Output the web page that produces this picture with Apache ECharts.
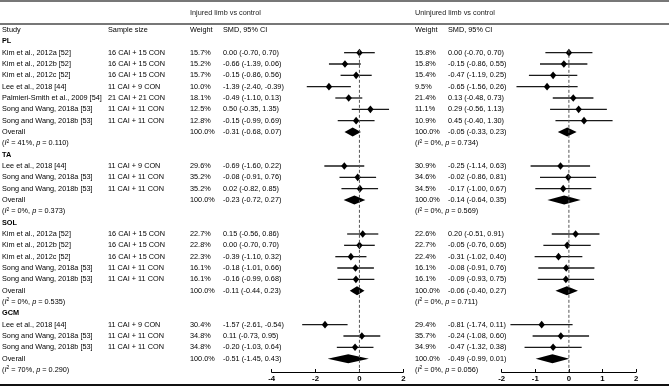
<!DOCTYPE html>
<html>
<head>
<meta charset="utf-8">
<script src="https://cdn.jsdelivr.net/npm/echarts@6/dist/echarts.min.js"></script>
<style>
html, body { margin: 0; padding: 0; background: #fff; }
#chart { width: 669px; height: 390px; }
</style>
</head>
<body>
<div id="chart"></div>
<script>
// subgroup labels
const groups = ['PL', 'TA', 'SOL', 'GCM'];

// PL
const plStudies = ['Kim et al., 2012a [52]', 'Kim et al., 2012b [52]', 'Kim et al., 2012c [52]', 'Lee et al., 2018 [44]',
    'Palmieri-Smith et al., 2009 [54]', 'Song and Wang, 2018a [53]', 'Song and Wang, 2018b [53]'];
const plSizes = ['16 CAI + 15 CON', '16 CAI + 15 CON', '16 CAI + 15 CON', '11 CAI + 9 CON', '21 CAI + 21 CON', '11 CAI + 11 CON', '11 CAI + 11 CON'];
const plInjWeight = [15.7, 15.2, 15.7, 10.0, 18.1, 12.5, 12.8];
const plInjSmd = [[0.00, -0.70, 0.70], [-0.66, -1.39, 0.06], [-0.15, -0.86, 0.56], [-1.39, -2.40, -0.39],
    [-0.49, -1.10, 0.13], [0.50, -0.35, 1.35], [-0.15, -0.99, 0.69]];
const plUniWeight = [15.8, 15.8, 15.4, 9.5, 21.4, 11.1, 10.9];
const plUniSmd = [[0.00, -0.70, 0.70], [-0.15, -0.86, 0.55], [-0.47, -1.19, 0.25], [-0.65, -1.56, 0.26],
    [0.13, -0.48, 0.73], [0.29, -0.56, 1.13], [0.45, -0.40, 1.30]];

// TA
const taStudies = ['Lee et al., 2018 [44]', 'Song and Wang, 2018a [53]', 'Song and Wang, 2018b [53]'];
const taSizes = ['11 CAI + 9 CON', '11 CAI + 11 CON', '11 CAI + 11 CON'];
const taInjWeight = [29.6, 35.2, 35.2];
const taInjSmd = [[-0.69, -1.60, 0.22], [-0.08, -0.91, 0.76], [0.02, -0.82, 0.85]];
const taUniWeight = [30.9, 34.6, 34.5];
const taUniSmd = [[-0.25, -1.14, 0.63], [-0.02, -0.86, 0.81], [-0.17, -1.00, 0.67]];

// SOL
const solStudies = ['Kim et al., 2012a [52]', 'Kim et al., 2012b [52]', 'Kim et al., 2012c [52]',
    'Song and Wang, 2018a [53]', 'Song and Wang, 2018b [53]'];
const solSizes = ['16 CAI + 15 CON', '16 CAI + 15 CON', '16 CAI + 15 CON', '11 CAI + 11 CON', '11 CAI + 11 CON'];
const solInjWeight = [22.7, 22.8, 22.3, 16.1, 16.1];
const solInjSmd = [[0.15, -0.56, 0.86], [0.00, -0.70, 0.70], [-0.39, -1.10, 0.32], [-0.18, -1.01, 0.66], [-0.16, -0.99, 0.68]];
const solUniWeight = [22.6, 22.7, 22.4, 16.1, 16.1];
const solUniSmd = [[0.20, -0.51, 0.91], [-0.05, -0.76, 0.65], [-0.31, -1.02, 0.40], [-0.08, -0.91, 0.76], [-0.09, -0.93, 0.75]];

// GCM
const gcmStudies = ['Lee et al., 2018 [44]', 'Song and Wang, 2018a [53]', 'Song and Wang, 2018b [53]'];
const gcmSizes = ['11 CAI + 9 CON', '11 CAI + 11 CON', '11 CAI + 11 CON'];
const gcmInjWeight = [30.4, 34.8, 34.8];
const gcmInjSmd = [[-1.57, -2.61, -0.54], [0.11, -0.73, 0.95], [-0.20, -1.03, 0.64]];
const gcmUniWeight = [29.4, 35.7, 34.9];
const gcmUniSmd = [[-0.81, -1.74, 0.11], [-0.24, -1.08, 0.60], [-0.47, -1.32, 0.38]];

// pooled estimates and heterogeneity, in group order
const overallInj = [[-0.31, -0.68, 0.07], [-0.23, -0.72, 0.27], [-0.11, -0.44, 0.23], [-0.51, -1.45, 0.43]];
const overallUni = [[-0.05, -0.33, 0.23], [-0.14, -0.64, 0.35], [-0.06, -0.40, 0.27], [-0.49, -0.99, 0.01]];
const hetInj = [['41%', '0.110'], ['0%', '0.373'], ['0%', '0.535'], ['70%', '0.290']];
const hetUni = [['0%', '0.734'], ['0%', '0.569'], ['0%', '0.711'], ['0%', '0.056']];

// axis ticks
const injTicks = [-4, -2, 0, 2];
const uniTicks = [-2, -1, 0, 1, 2];

const groupStudies = [plStudies, taStudies, solStudies, gcmStudies];
const groupSizes = [plSizes, taSizes, solSizes, gcmSizes];
const groupInjW = [plInjWeight, taInjWeight, solInjWeight, gcmInjWeight];
const groupInj = [plInjSmd, taInjSmd, solInjSmd, gcmInjSmd];
const groupUniW = [plUniWeight, taUniWeight, solUniWeight, gcmUniWeight];
const groupUni = [plUniSmd, taUniSmd, solUniSmd, gcmUniSmd];

const FONT = "'Liberation Sans', Arial, sans-serif";
const FS = 7.3;
const ROW0 = 30; // y of header row
const ROWH = 11.333; // row pitch
const AXIS_ROW = 30.18; // where x axis sits, in row units

const fmt = v => v.toFixed(2);
const ci = d => `${fmt(d[0])} (${fmt(d[1])}, ${fmt(d[2])})`;

// build table rows
const rows = [];
rows.push({ kind: 'head' });
groups.forEach((g, gi) => {
    rows.push({ kind: 'group', text: g });
    groupStudies[gi].forEach((name, i) => {
        rows.push({
            kind: 'study', name, size: groupSizes[gi][i],
            injW: groupInjW[gi][i], inj: groupInj[gi][i],
            uniW: groupUniW[gi][i], uni: groupUni[gi][i],
        });
    });
    rows.push({ kind: 'overall', inj: overallInj[gi], uni: overallUni[gi] });
    rows.push({ kind: 'het', inj: hetInj[gi], uni: hetUni[gi] });
});

const injData = [];
const uniData = [];
rows.forEach((r, i) => {
    if (r.kind === 'study') {
        injData.push([r.inj[0], r.inj[1], r.inj[2], i, 0]);
        uniData.push([r.uni[0], r.uni[1], r.uni[2], i, 0]);
    } else if (r.kind === 'overall') {
        injData.push([r.inj[0], r.inj[1], r.inj[2], i, 1]);
        uniData.push([r.uni[0], r.uni[1], r.uni[2], i, 1]);
    }
});

const graphics = [];
const txt = (x, row, text, extra) => {
    graphics.push({
        type: 'text', x, y: ROW0 + row * ROWH, silent: true,
        style: Object.assign({
            text, fontSize: FS, fontFamily: FONT, fill: '#000', verticalAlign: 'middle', align: 'left',
        }, extra || {}),
    });
};
const hetRich = {
    i: { fontStyle: 'italic', fontSize: FS, fontFamily: FONT, fill: '#000' },
    s: { fontSize: 5, fontFamily: FONT, fill: '#000', padding: [0, 0, 4, 0] },
};

// rules
graphics.push({ type: 'rect', shape: { x: 0, y: 0, width: 669, height: 2 }, style: { fill: '#777' }, silent: true });
graphics.push({ type: 'rect', shape: { x: 0, y: 23, width: 669, height: 2 }, style: { fill: '#777' }, silent: true });
graphics.push({ type: 'rect', shape: { x: 0, y: 384, width: 669, height: 2 }, style: { fill: '#111' }, silent: true });

// column headers
graphics.push({ type: 'text', x: 190, y: 13, silent: true, style: { text: 'Injured limb vs control', fontSize: FS, fontFamily: FONT, fill: '#222', verticalAlign: 'middle' } });
graphics.push({ type: 'text', x: 415, y: 13, silent: true, style: { text: 'Uninjured limb vs control', fontSize: FS, fontFamily: FONT, fill: '#222', verticalAlign: 'middle' } });

rows.forEach((r, i) => {
    if (r.kind === 'head') {
        txt(2, i, 'Study');
        txt(108, i, 'Sample size');
        txt(190, i, 'Weight');
        txt(223, i, 'SMD, 95% CI');
        txt(415, i, 'Weight');
        txt(448, i, 'SMD, 95% CI');
    } else if (r.kind === 'group') {
        txt(2, i, r.text, { fontWeight: 'bold' });
    } else if (r.kind === 'study') {
        txt(2, i, r.name);
        txt(108, i, r.size);
        txt(190, i, r.injW.toFixed(1) + '%');
        txt(223, i, ci(r.inj));
        txt(415, i, r.uniW.toFixed(1) + '%');
        txt(448, i, ci(r.uni));
    } else if (r.kind === 'overall') {
        txt(2, i, 'Overall');
        txt(190, i, '100.0%');
        txt(223, i, ci(r.inj));
        txt(415, i, '100.0%');
        txt(448, i, ci(r.uni));
    } else if (r.kind === 'het') {
        txt(2, i, `({i|I}{s|2} = ${r.inj[0]}, {i|p} = ${r.inj[1]})`, { rich: hetRich });
        txt(415, i, `({i|I}{s|2} = ${r.uni[0]}, {i|p} = ${r.uni[1]})`, { rich: hetRich });
    }
});

const renderForest = (params, api) => {
    const est = api.value(0);
    const lo = api.value(1);
    const hi = api.value(2);
    const row = api.value(3);
    const kind = api.value(4);
    const pE = api.coord([est, row]);
    const pL = api.coord([lo, row]);
    const pH = api.coord([hi, row]);
    if (kind === 1) {
        return {
            type: 'polygon',
            shape: { points: [[pL[0], pE[1]], [pE[0], pE[1] - 4.5], [pH[0], pE[1]], [pE[0], pE[1] + 4.5]] },
            style: { fill: '#000' },
        };
    }
    return {
        type: 'group',
        children: [
            { type: 'line', shape: { x1: pL[0], y1: pL[1], x2: pH[0], y2: pH[1] }, style: { stroke: '#1a1a1a', lineWidth: 1.3 } },
            {
                type: 'polygon',
                shape: { points: [[pE[0] - 3.2, pE[1]], [pE[0], pE[1] - 3.8], [pE[0] + 3.2, pE[1]], [pE[0], pE[1] + 3.8]] },
                style: { fill: '#000' },
            },
        ],
    };
};

const xAxisCommon = {
    type: 'value',
    position: 'bottom',
    splitLine: { show: false },
    axisLine: { show: true, onZero: false, lineStyle: { color: '#000', width: 1 } },
    axisTick: { show: true, inside: true, length: 3, lineStyle: { color: '#000' } },
    axisLabel: { fontSize: 7.8, fontWeight: 'bold', color: '#000', fontFamily: FONT, margin: 3 },
};
const yAxisCommon = {
    type: 'value', inverse: true, min: 0, max: AXIS_ROW, show: false,
};

const chart = echarts.init(document.getElementById('chart'), null, { renderer: 'canvas' });
chart.setOption({
    animation: false,
    backgroundColor: '#fff',
    grid: [
        { left: 271.7, width: 131.6, top: ROW0, height: AXIS_ROW * ROWH },
        { left: 501.7, width: 134.4, top: ROW0, height: AXIS_ROW * ROWH },
    ],
    xAxis: [
        Object.assign({}, xAxisCommon, { gridIndex: 0, min: injTicks[0], max: injTicks[injTicks.length - 1], interval: 2 }),
        Object.assign({}, xAxisCommon, { gridIndex: 1, min: uniTicks[0], max: uniTicks[uniTicks.length - 1], interval: 1 }),
    ],
    yAxis: [
        Object.assign({}, yAxisCommon, { gridIndex: 0 }),
        Object.assign({}, yAxisCommon, { gridIndex: 1 }),
    ],
    series: [
        {
            type: 'line', xAxisIndex: 0, yAxisIndex: 0, data: [[0, 1.75], [0, AXIS_ROW]], symbol: 'none',
            lineStyle: { color: '#555', width: 1, type: [3, 2] }, silent: true,
        },
        {
            type: 'line', xAxisIndex: 1, yAxisIndex: 1, data: [[0, 1.75], [0, AXIS_ROW]], symbol: 'none',
            lineStyle: { color: '#555', width: 1, type: [3, 2] }, silent: true,
        },
        {
            type: 'custom', xAxisIndex: 0, yAxisIndex: 0, data: injData, renderItem: renderForest,
            encode: { x: [0, 1, 2], y: 3 }, clip: false,
        },
        {
            type: 'custom', xAxisIndex: 1, yAxisIndex: 1, data: uniData, renderItem: renderForest,
            encode: { x: [0, 1, 2], y: 3 }, clip: false,
        },
    ],
    graphic: graphics,
});
</script>
</body>
</html>
